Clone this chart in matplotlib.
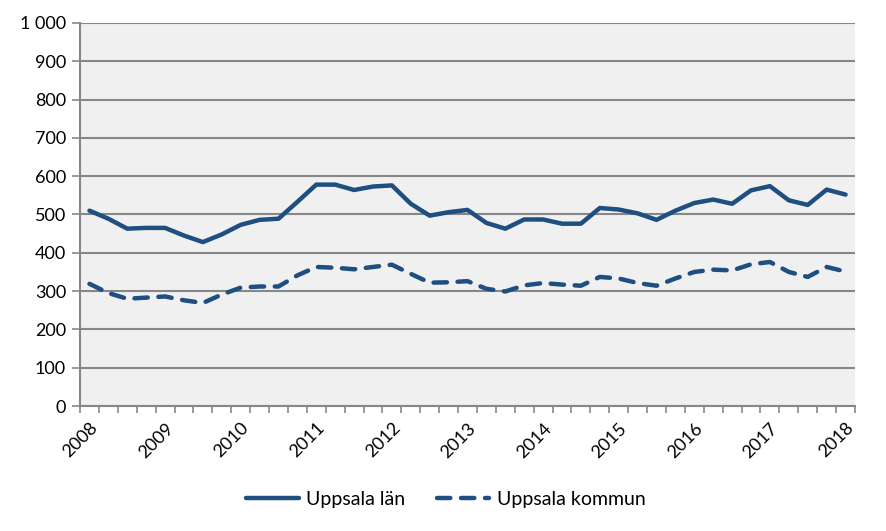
import matplotlib.pyplot as plt
from matplotlib.ticker import FuncFormatter

plt.rcParams['font.family'] = ['Lato', 'DejaVu Sans']

# kvartal 2008 Q1 .. 2018 Q1
years = list(range(2008, 2019))
lan = [510, 489, 463, 465, 465, 445, 428, 448, 473, 486, 489,
       533, 578, 578, 564, 573, 576, 528, 497, 506, 512,
       478, 463, 487, 487, 476, 476, 517, 513, 503, 486,
       510, 530, 539, 528, 563, 574, 537, 525, 565, 552]
kommun = [319, 295, 280, 283, 286, 276, 269, 291, 309, 312, 312,
          341, 363, 361, 357, 363, 369, 345, 322, 323, 326,
          306, 299, 315, 321, 317, 314, 337, 333, 321, 314,
          333, 350, 356, 354, 370, 376, 350, 337, 363, 351]

color = '#1f4e80'
grid_c = '#878787'

fig = plt.figure(figsize=(8.86, 5.31), dpi=100)
ax = fig.add_axes([0.0903, 0.2354, 0.8747, 0.7213])
ax.set_facecolor('#f0f0f0')

x = list(range(len(lan)))
ax.plot(x, lan, color=color, lw=3.2, solid_joinstyle='round',
        solid_capstyle='round', label='Uppsala län')
ax.plot(x, kommun, color=color, lw=3.2, dashes=(3.0, 2.4),
        dash_capstyle='round', dash_joinstyle='round', label='Uppsala kommun')

ax.set_xlim(-0.5, len(lan) - 0.5)
ax.set_ylim(0, 1000)
ax.set_yticks(range(0, 1001, 100))
ax.yaxis.set_major_formatter(FuncFormatter(lambda v, p: f'{int(v):,}'.replace(',', ' ')))
ax.grid(axis='y', color=grid_c, lw=1.5)
ax.set_axisbelow(True)

# tick marks between categories, year labels every 4th quarter
ax.set_xticks([i - 0.5 for i in range(len(lan) + 1)], minor=True)
ax.set_xticks([i * 4 for i in range(len(years))])
ax.set_xticklabels([str(y) for y in years], rotation=45, ha='right',
                   rotation_mode='anchor')
ax.tick_params(axis='x', which='major', length=0, pad=10, labelsize=13)
ax.tick_params(axis='x', which='minor', length=5, width=1.2, color=grid_c)
ax.tick_params(axis='y', length=6, width=1.2, color=grid_c, labelsize=13, pad=4)

for s in ['top', 'right']:
    ax.spines[s].set_visible(False)
for s in ['left', 'bottom']:
    ax.spines[s].set_color(grid_c)
    ax.spines[s].set_linewidth(1.5)

ax.legend(loc='upper center', bbox_to_anchor=(0.472, -0.175), ncol=2,
          frameon=False, fontsize=14, handlelength=2.7, columnspacing=1.6,
          handletextpad=0.4)

fig.savefig('out.png', dpi=100)
